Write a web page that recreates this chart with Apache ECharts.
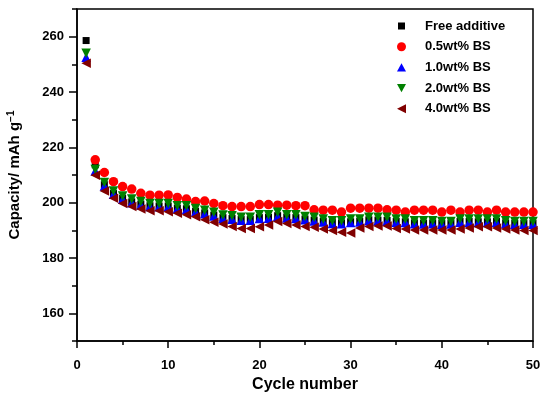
<!DOCTYPE html>
<html><head><meta charset="utf-8">
<script src="https://cdn.jsdelivr.net/npm/echarts@6/dist/echarts.min.js"></script>
<style>html,body{margin:0;padding:0;background:#fff}#c{width:550px;height:397px}</style>
</head><body><div id="c"></div>
<script>
var cycles = [];
for (var i = 1; i <= 50; i++) cycles.push(i);
var seriesNames = ['Free additive', '0.5wt% BS', '1.0wt% BS', '2.0wt% BS', '4.0wt% BS'];
var freeAdditive = [258.6, 213.7, 206.5, 203.3, 201.5, 200.3, 199.5, 198.9, 198.8, 198.8, 198.0, 197.8, 196.9, 196.3, 195.5, 194.6, 194.3, 193.9, 193.9, 194.6, 194.7, 195.3, 194.8, 194.6, 194.1, 193.7, 193.3, 192.8, 192.7, 193.1, 193.3, 193.8, 193.7, 193.6, 193.2, 193.1, 192.7, 192.6, 192.7, 192.5, 192.6, 193.2, 193.2, 193.1, 193.1, 193.2, 192.7, 192.5, 192.5, 192.5];
var bs05 = [null, 215.5, 210.9, 207.6, 205.8, 204.9, 203.4, 202.7, 202.7, 202.8, 201.9, 201.3, 200.4, 200.6, 199.7, 198.9, 198.6, 198.6, 198.6, 199.3, 199.3, 199.1, 199.1, 198.9, 198.9, 197.4, 197.3, 197.3, 196.6, 198.0, 198.0, 198.0, 198.0, 197.4, 197.3, 196.6, 197.3, 197.3, 197.3, 196.6, 197.3, 196.6, 197.3, 197.3, 196.6, 197.3, 196.6, 196.6, 196.6, 196.6];
var bs10 = [252.6, 211.5, 206.0, 203.0, 201.2, 200.0, 199.2, 198.6, 198.5, 198.5, 197.8, 197.5, 196.6, 196.0, 195.2, 194.3, 194.0, 193.6, 193.6, 194.3, 194.4, 195.0, 194.5, 194.3, 193.8, 193.4, 193.0, 192.5, 192.4, 192.8, 193.0, 193.5, 193.4, 193.3, 192.9, 192.8, 192.4, 192.3, 192.4, 192.2, 192.3, 192.9, 192.9, 192.8, 192.8, 192.9, 192.4, 192.2, 192.2, 192.2];
var bs20 = [254.0, 212.0, 207.3, 204.2, 202.4, 201.3, 200.4, 199.7, 199.7, 199.7, 198.9, 198.9, 197.9, 197.3, 196.5, 195.5, 195.3, 194.7, 194.7, 195.6, 195.6, 196.5, 195.6, 195.6, 195.0, 194.7, 194.1, 193.5, 193.5, 194.1, 194.1, 194.7, 194.7, 194.7, 194.1, 194.1, 193.5, 193.5, 193.5, 193.2, 193.2, 194.1, 194.1, 194.1, 194.1, 194.1, 193.5, 193.2, 193.2, 193.2];
var bs40 = [250.4, 209.9, 204.2, 201.6, 199.7, 198.6, 197.7, 197.1, 197.1, 196.7, 196.2, 195.6, 194.9, 193.8, 192.9, 192.3, 191.4, 190.7, 190.7, 191.3, 191.9, 193.2, 192.5, 191.9, 191.4, 191.1, 190.5, 189.9, 189.3, 189.0, 190.8, 191.4, 191.6, 191.6, 190.7, 190.5, 190.1, 190.1, 190.1, 190.1, 190.1, 190.5, 190.8, 191.3, 191.3, 190.8, 190.5, 190.1, 189.9, 189.9];
var yMajorTicks = [160, 180, 200, 220, 240, 260];
var yMinorTicks = [150, 170, 190, 210, 230, 250, 270];

function pairs(arr) {
  return cycles.map(function (c, i) { return [c, arr[i]]; }).filter(function (p) { return p[1] != null; });
}
var FONT = 'Liberation Sans, Arial, sans-serif';
var chart = echarts.init(document.getElementById('c'), null, {renderer: 'canvas'});
function sc(name, data, color, symbol, size, rot) {
  return {
    name: name, type: 'scatter', data: pairs(data), symbol: symbol, symbolSize: size,
    symbolRotate: rot || 0, itemStyle: {color: color, opacity: 1}, z: 2,
    emphasis: {disabled: true}, silent: true
  };
}
chart.setOption({
  animation: false,
  grid: {left: 77, right: 17, top: 9, bottom: 56, outerBoundsMode: 'none', containLabel: false,
    show: true, borderColor: '#000', borderWidth: 1.5, backgroundColor: 'transparent'},
  legend: {
    orient: 'vertical', left: 392, top: 14, itemWidth: 9, itemHeight: 9, itemGap: 6.7,
    textStyle: {fontFamily: FONT, fontWeight: 'bold', fontSize: 13, color: '#000', lineHeight: 14, padding: [0, 0, 0, 14]},
    data: [
      {name: seriesNames[0], icon: 'path://M1,1L8,1L8,8L1,8Z M0,0L0,0.01 M9,9L9,9.01'},
      {name: seriesNames[1], icon: 'circle'},
      {name: seriesNames[2], icon: 'path://M5,0L10,9L0,9Z'},
      {name: seriesNames[3], icon: 'path://M0,0L10,0L5,9Z'},
      {name: seriesNames[4], icon: 'path://M0,4.5L9,0L9,9Z'}
    ]
  },
  xAxis: {
    type: 'value', min: 0, max: 50, interval: 10,
    name: 'Cycle number', nameLocation: 'middle', nameGap: 35,
    nameTextStyle: {fontFamily: FONT, fontWeight: 'bold', fontSize: 16, color: '#000'},
    axisLine: {show: true, lineStyle: {color: '#000', width: 1.5}},
    axisTick: {show: true, inside: false, length: 7, lineStyle: {color: '#000', width: 1.5}},
    minorTick: {show: true, splitNumber: 2, length: 4, lineStyle: {color: '#000', width: 1.5}},
    axisLabel: {fontFamily: FONT, fontWeight: 'bold', fontSize: 13, color: '#000', margin: 18},
    splitLine: {show: false}
  },
  yAxis: [{
    type: 'value', min: 150, max: 270,
    name: 'Capacity/ mAh g{sup|\u22121}', nameLocation: 'middle', nameGap: 53, nameRotate: 90,
    nameTextStyle: {fontFamily: FONT, fontWeight: 'bold', fontSize: 15, color: '#000',
      rich: {sup: {fontFamily: FONT, fontWeight: 'bold', fontSize: 10, color: '#000', verticalAlign: 'top', padding: [0, 0, 8, 0]}}},
    axisLine: {show: true, lineStyle: {color: '#000', width: 1.5}},
    axisTick: {show: true, inside: false, length: 8, customValues: yMajorTicks, lineStyle: {color: '#000', width: 1.5}},
    axisLabel: {fontFamily: FONT, fontWeight: 'bold', fontSize: 13, color: '#000', margin: 13, customValues: yMajorTicks},
    splitLine: {show: false}
  }, {
    type: 'value', min: 150, max: 270, position: 'left', offset: 0,
    axisLine: {show: false},
    axisTick: {show: true, inside: false, length: 5, customValues: yMinorTicks, lineStyle: {color: '#000', width: 1.5}},
    axisLabel: {show: false, customValues: yMinorTicks},
    splitLine: {show: false}
  }],
  series: [
    sc(seriesNames[0], freeAdditive, '#000000', 'rect', 7, 0),
    sc(seriesNames[1], bs05, '#ff0000', 'circle', 9.5, 0),
    sc(seriesNames[2], bs10, '#0000ff', 'triangle', 9.5, 0),
    sc(seriesNames[3], bs20, '#008000', 'triangle', 9.5, 180),
    sc(seriesNames[4], bs40, '#800000', 'triangle', 9.5, 90)
  ]
});
</script></body></html>
